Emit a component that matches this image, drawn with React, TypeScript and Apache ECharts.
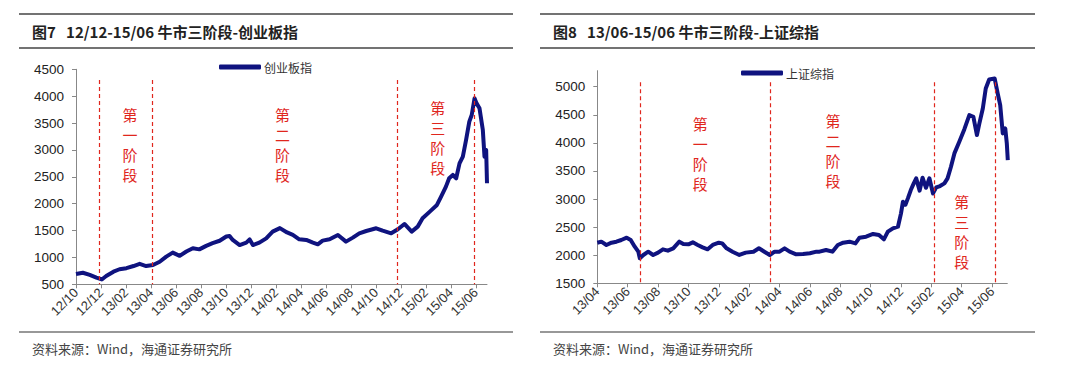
import React, { useEffect, useRef } from "react";
import * as echarts from "echarts";

// ---- Left chart: 创业板指 (ChiNext) ----
const leftStart = "2012-10-01";
const leftDates = [
  "2012-10-01", "2012-10-18", "2012-11-04", "2012-11-20", "2012-12-03", "2012-12-14",
  "2013-01-01", "2013-01-16", "2013-02-02", "2013-02-18", "2013-03-04", "2013-03-20",
  "2013-04-06", "2013-04-22", "2013-05-08", "2013-05-24", "2013-06-10", "2013-06-26",
  "2013-07-12", "2013-07-28", "2013-08-14", "2013-08-30", "2013-09-16", "2013-10-02",
  "2013-10-10", "2013-10-18", "2013-11-04", "2013-11-20", "2013-11-28", "2013-12-06",
  "2013-12-22", "2014-01-08", "2014-01-24", "2014-02-10", "2014-02-26", "2014-03-12",
  "2014-03-28", "2014-04-14", "2014-04-30", "2014-05-12", "2014-05-24", "2014-06-10",
  "2014-06-30", "2014-07-20", "2014-08-06", "2014-08-22", "2014-09-08", "2014-10-02",
  "2014-10-18", "2014-11-08", "2014-11-24", "2014-12-10", "2014-12-28", "2015-01-12",
  "2015-01-24", "2015-02-10", "2015-02-26", "2015-03-08", "2015-03-20", "2015-03-28",
  "2015-04-06", "2015-04-14", "2015-04-22", "2015-04-30", "2015-05-08", "2015-05-16",
  "2015-05-22", "2015-05-29", "2015-06-03", "2015-06-10", "2015-06-18", "2015-06-22",
  "2015-06-26", "2015-06-28"
];
const leftValues = [
  690, 715, 675, 625, 590, 655,
  735, 780, 800, 840, 880, 840,
  860, 920, 1015, 1090, 1030, 1110,
  1170, 1150, 1215, 1265, 1310, 1390,
  1400, 1325, 1230, 1275, 1335, 1230,
  1275, 1355, 1480, 1545, 1465, 1420,
  1337, 1325, 1275, 1244, 1312, 1337,
  1418, 1294, 1368, 1449, 1492, 1542,
  1498, 1449, 1523, 1622, 1480, 1573,
  1728, 1852, 1976, 2131, 2317, 2472,
  2534, 2472, 2750, 2875, 3185, 3526,
  3650, 3960, 3866, 3774, 3370, 2875,
  3000, 2380
];
const leftStageDates = ["2012-11-28", "2013-04-04", "2014-11-23", "2015-05-29"];
const leftStageLabels = ["第\n一\n阶\n段", "第\n二\n阶\n段", "第\n三\n阶\n段"];
const leftStageLabelDates = ["2013-02-10", "2014-02-16", "2015-02-28"];
const leftStageLabelValues = [3110, 3110, 3240];
const leftYTicks = [500, 1000, 1500, 2000, 2500, 3000, 3500, 4000, 4500];
const leftXTickLabels = [
  "12/10", "12/12", "13/02", "13/04", "13/06", "13/08", "13/10", "13/12", "14/02",
  "14/04", "14/06", "14/08", "14/10", "14/12", "15/02", "15/04", "15/06"
];

// ---- Right chart: 上证综指 (SSE Composite) ----
const rightStart = "2013-04-01";
const rightDates = [
  "2013-04-01", "2013-04-09", "2013-04-19", "2013-04-29", "2013-05-09", "2013-05-19",
  "2013-05-30", "2013-06-07", "2013-06-15", "2013-06-22", "2013-06-25", "2013-07-02",
  "2013-07-12", "2013-07-22", "2013-08-01", "2013-08-11", "2013-08-21", "2013-09-01",
  "2013-09-13", "2013-09-21", "2013-10-01", "2013-10-10", "2013-10-20", "2013-10-30",
  "2013-11-09", "2013-11-19", "2013-12-01", "2013-12-08", "2013-12-17", "2013-12-29",
  "2014-01-12", "2014-01-25", "2014-02-09", "2014-02-19", "2014-03-01", "2014-03-12",
  "2014-03-22", "2014-04-01", "2014-04-11", "2014-04-21", "2014-05-04", "2014-05-18",
  "2014-06-01", "2014-06-14", "2014-06-20", "2014-07-03", "2014-07-16", "2014-07-27",
  "2014-08-07", "2014-08-20", "2014-09-01", "2014-09-09", "2014-09-22", "2014-10-06",
  "2014-10-18", "2014-10-28", "2014-11-05", "2014-11-15", "2014-11-25", "2014-12-01",
  "2014-12-05", "2014-12-10", "2014-12-15", "2014-12-21", "2014-12-27", "2015-01-01",
  "2015-01-08", "2015-01-14", "2015-01-21", "2015-01-28", "2015-02-04", "2015-02-10",
  "2015-02-17", "2015-02-25", "2015-03-03", "2015-03-10", "2015-03-17", "2015-03-27",
  "2015-04-06", "2015-04-16", "2015-04-24", "2015-05-01", "2015-05-06", "2015-05-13",
  "2015-05-19", "2015-05-26", "2015-06-06", "2015-06-12", "2015-06-17", "2015-06-22",
  "2015-06-27", "2015-06-30", "2015-07-02"
];
const rightValues = [
  2223, 2241, 2182, 2223, 2241, 2271,
  2312, 2271, 2152, 2063, 1945, 2004,
  2063, 2004, 2046, 2105, 2081, 2123,
  2241, 2200, 2194, 2229, 2182, 2140,
  2105, 2182, 2223, 2211, 2123, 2063,
  2004, 2046, 2063, 2123, 2063, 2004,
  2063, 2063, 2123, 2063, 2016, 2022,
  2034, 2063, 2063, 2093, 2063, 2182,
  2223, 2241, 2211, 2312, 2330, 2378,
  2360, 2283, 2419, 2478, 2508, 2745,
  2953, 2900, 3012, 3160, 3279, 3368,
  3150, 3380, 3200, 3370, 3100, 3208,
  3232, 3279, 3368, 3576, 3813, 4020,
  4240, 4495, 4465, 4139, 4346, 4613,
  4969, 5129, 5147, 4880, 4673, 4169,
  4257, 3994, 3694
];
const rightStageDates = ["2013-06-25", "2014-03-13", "2015-02-06", "2015-06-08"];
const rightStageLabels = ["第\n一\n阶\n段", "第\n二\n阶\n段", "第\n三\n阶\n段"];
const rightStageLabelDates = ["2013-10-25", "2014-07-17", "2015-04-01"];
const rightStageLabelValues = [3818, 3863, 2422];
const rightYTicks = [1500, 2000, 2500, 3000, 3500, 4000, 4500, 5000];
const rightXTickLabels = [
  "13/04", "13/06", "13/08", "13/10", "13/12", "14/02", "14/04",
  "14/06", "14/08", "14/10", "14/12", "15/02", "15/04", "15/06"
];

const LINE_COLOR = "#0f137f";
const RED = "#e0261d";
const FONT = "Arial, 'Liberation Sans', 'Noto Sans CJK SC', sans-serif";
const CJK = "'Noto Sans CJK SC', sans-serif";

function monthIndex(date: string, start: string): number {
  const [y, m, d] = date.split("-").map(Number);
  const [y0, m0] = start.split("-").map(Number);
  const dim = new Date(y, m, 0).getDate();
  return (y - y0) * 12 + (m - m0) + (d - 1) / dim;
}

function buildSeries(
  name: string,
  idx: number,
  start: string,
  dates: string[],
  values: number[],
  stageDates: string[],
  stageTop: number,
  stageBottom: number,
  labels: string[],
  labelDates: string[],
  labelValues: number[]
) {
  return {
    name,
    type: "line",
    xAxisIndex: idx,
    yAxisIndex: idx,
    data: dates.map((d, i) => [monthIndex(d, start), values[i]]),
    showSymbol: false,
    clip: false,
    lineStyle: { color: LINE_COLOR, width: 4, join: "round" },
    itemStyle: { color: LINE_COLOR },
    markLine: {
      silent: true,
      symbol: "none",
      label: { show: false },
      lineStyle: { color: RED, type: [4, 3], width: 1.2 },
      data: stageDates.map((d) => [
        { coord: [monthIndex(d, start), stageTop] },
        { coord: [monthIndex(d, start), stageBottom] },
      ]),
    },
    markPoint: {
      silent: true,
      symbol: "rect",
      symbolSize: 1,
      itemStyle: { color: "rgba(0,0,0,0)" },
      label: {
        show: true,
        position: "inside",
        color: RED,
        fontFamily: CJK,
        fontSize: 15,
        lineHeight: 20,
        align: "center",
        verticalAlign: "middle",
      },
      data: labels.map((t, i) => ({
        coord: [monthIndex(labelDates[i], start), labelValues[i]],
        value: t,
        label: { formatter: t },
      })),
    },
  };
}

function panelGraphics(x0: number, x1: number, title: string, tx: number) {
  return [
    { type: "line", shape: { x1: x0, y1: 14, x2: x1, y2: 14 }, style: { stroke: "#444", lineWidth: 1.5 } },
    { type: "line", shape: { x1: x0, y1: 48, x2: x1, y2: 48 }, style: { stroke: "#444", lineWidth: 1.5 } },
    { type: "line", shape: { x1: x0, y1: 332, x2: x1, y2: 332 }, style: { stroke: "#333", lineWidth: 1.2 } },
    {
      type: "text", x: tx, y: 31,
      style: { text: title, font: `bold 15px ${CJK}`, fill: "#222", verticalAlign: "middle" },
    },
    {
      type: "text", x: tx, y: 348,
      style: { text: "资料来源：Wind，海通证券研究所", font: `13px ${CJK}`, fill: "#444", verticalAlign: "middle" },
    },
  ];
}

export default function App() {
  const ref = useRef<HTMLDivElement>(null);
  useEffect(() => {
    if (!ref.current) return;
    const chart = echarts.init(ref.current, null, { renderer: "svg" });
    const xAxisBase = (max: number, labels: string[]) => ({
      type: "value",
      min: 0,
      max,
      interval: 2,
      axisLine: { show: true, lineStyle: { color: "#888", width: 1 } },
      axisTick: { show: true, length: 4, lineStyle: { color: "#888" }, customValues: labels.map((_, i) => i * 2) },
      splitLine: { show: false },
      axisLabel: {
        rotate: 45,
        fontSize: 13,
        color: "#333",
        fontFamily: FONT,
        margin: 6,
        customValues: labels.map((_, i) => i * 2),
        formatter: (v: number) => labels[Math.round(v / 2)] ?? "",
      },
    });
    const yAxisBase = (min: number, max: number, ticks: number[]) => ({
      type: "value",
      min,
      max,
      interval: 500,
      axisLine: { show: true, lineStyle: { color: "#888", width: 1 } },
      axisTick: { show: true, length: 4, lineStyle: { color: "#888" }, customValues: ticks },
      splitLine: { show: false },
      axisLabel: {
        fontSize: 13.5, color: "#222", fontFamily: FONT, margin: 12, customValues: ticks,
        formatter: (v: number) => String(v),
      },
    });
    chart.setOption({
      animation: false,
      backgroundColor: "#fff",
      grid: [
        { left: 76, top: 69.3, width: 411, height: 215 },
        { left: 597.3, top: 70.7, width: 410, height: 212.6 },
      ],
      xAxis: [
        { ...xAxisBase(32.9, leftXTickLabels), gridIndex: 0 },
        { ...xAxisBase(27.0, rightXTickLabels), gridIndex: 1 },
      ],
      yAxis: [
        { ...yAxisBase(500, 4500, leftYTicks), gridIndex: 0 },
        { ...yAxisBase(1500, 5285, rightYTicks), gridIndex: 1 },
      ],
      legend: [
        {
          data: ["创业板指"], left: 214, top: 56, itemWidth: 42, itemHeight: 5, icon: "roundRect", itemGap: 4,
          textStyle: { fontSize: 12, color: "#333", fontFamily: CJK, padding: [0, 0, 0, -2] },
        },
        {
          data: ["上证综指"], left: 736, top: 62, itemWidth: 42, itemHeight: 5, icon: "roundRect",
          textStyle: { fontSize: 12, color: "#333", fontFamily: CJK, padding: [0, 0, 0, -2] },
        },
      ],
      series: [
        buildSeries("创业板指", 0, leftStart, leftDates, leftValues, leftStageDates, 4300, 500,
          leftStageLabels, leftStageLabelDates, leftStageLabelValues),
        buildSeries("上证综指", 1, rightStart, rightDates, rightValues, rightStageDates, 5080, 1500,
          rightStageLabels, rightStageLabelDates, rightStageLabelValues),
      ],
      graphic: [
        ...panelGraphics(19, 513, "图7   12/12-15/06 牛市三阶段-创业板指", 32),
        ...panelGraphics(540, 1035, "图8   13/06-15/06 牛市三阶段-上证综指", 553),
      ],
    });
    return () => chart.dispose();
  }, []);
  return (
    <div
      ref={ref}
      style={{ position: "absolute", left: 0, top: 0, width: 1080, height: 370, background: "#fff" }}
    />
  );
}
